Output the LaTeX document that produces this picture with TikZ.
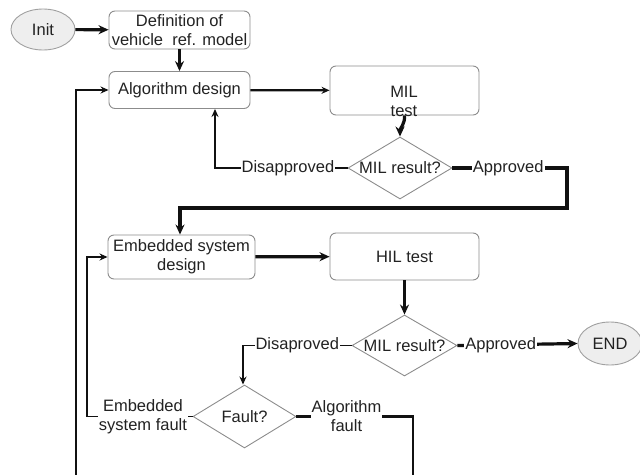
\documentclass[tikz,border=0pt]{standalone}
\usepackage{fontspec}
\setmainfont{Liberation Sans}
\usetikzlibrary{shapes.geometric,arrows.meta}
\definecolor{boxgray}{HTML}{8C8C8C}
\definecolor{ellborder}{HTML}{A0A0A0}
\definecolor{txt}{HTML}{222222}
\definecolor{ellfill}{HTML}{EEEEEE}
\definecolor{linecol}{HTML}{111111}
\begin{document}
\begin{tikzpicture}[x=1pt,y=-1pt,
  font=\fontsize{16.5}{19}\selectfont,
  box/.style={draw=boxgray, rounded corners=6pt, line width=0.9pt, align=center, inner sep=0pt, text=txt},
  ell/.style={ellipse, draw=ellborder, fill=ellfill, line width=0.9pt, text=txt, inner sep=0pt},
  dia/.style={diamond, draw=boxgray, line width=0.9pt, inner sep=0pt, text=txt},
  lbl/.style={fill=white, inner sep=1pt, text=txt, align=center},
  wthin/.style={draw=linecol, line width=1.5pt},
  wmid/.style={draw=linecol, line width=2.2pt},
  wthick/.style={draw=linecol, line width=3.2pt},
  tipbig/.style={-{Stealth[length=10pt,width=9pt]}},
  tipsmall/.style={-{Stealth[length=8pt,width=7pt]}}
]
\useasboundingbox (0,0) rectangle (640,474);
\clip (0,0) rectangle (640,474);

% nodes
\node[ell, minimum width=64pt, minimum height=41pt] (init) at (43,29.5) {Init};
\node[box, minimum width=141pt, minimum height=38pt] (def) at (179.5,30) {Definition of\\vehicle\ \ ref. model};
\node[box, minimum width=141pt, minimum height=37pt] (alg) at (179.5,90) {Algorithm design};
\node[box, minimum width=149pt, minimum height=49pt] (mil) at (404.5,90.5) {};
\node[text=txt, align=center, inner sep=0pt] (miltxt) at (404,101) {MIL\\test};
\node[dia, minimum width=104pt, minimum height=62pt] (d1) at (400,168) {\makebox[0pt]{MIL result?}};
\node[box, minimum width=147pt, minimum height=44pt] (emb) at (181.5,257) {Embedded system\\design};
\node[box, minimum width=149pt, minimum height=47pt] (hil) at (404.5,256.5) {HIL test};
\node[dia, minimum width=105pt, minimum height=61pt] (d2) at (404.5,345.5) {\makebox[0pt]{MIL result?}};
\node[ell, minimum width=64pt, minimum height=43pt] (end) at (610,343.5) {END};
\node[dia, minimum width=103pt, minimum height=63pt] (fault) at (244.5,416.5) {\makebox[0pt]{Fault?}};

% coordinates
\coordinate (c1) at (215,168);
\coordinate (c2) at (567,168);
\coordinate (c3) at (567,208);
\coordinate (c4) at (180,208);
\coordinate (c5) at (243,345.5);
\coordinate (c6) at (87,416.5);
\coordinate (c7) at (87,257);
\coordinate (c8) at (413,416.5);
\coordinate (c9) at (413,500);
\coordinate (c10) at (76,500);
\coordinate (c11) at (76,90);

% connectors
\draw[wthick, tipbig] (init) -- (def);
\draw[wthick, tipbig] (def) -- (alg);
\draw[wmid, tipsmall] (alg) -- (mil);
\draw[wthick, tipbig] (mil.south) to[out=-85,in=90] (d1.north);
\draw[wthin, tipsmall] (d1.west) -- node[lbl, pos=0.45]{Disapproved} (c1) -- (c1 |- alg.south);
\draw[wthick, tipbig] (d1.east) -- node[lbl, pos=0.487]{Approved} (c2) -- (c3) -- (c4) -- (c4 |- emb.north);
\draw[wthick, tipbig] (emb) -- (hil);
\draw[wthick, tipbig] (hil) -- (d2);
\draw[wthick, tipbig] (d2.east) -- node[lbl, pos=0.36]{Approved} (end.west);
\draw[wthin, tipsmall] (d2.west) -- node[lbl, pos=0.5]{Disaproved} (c5) -- (c5 |- fault.north);
\draw[wthin, tipsmall] (fault.west) -- node[lbl, pos=0.47]{Embedded\\system fault} (c6) -- (c7) -- (emb.west);
\draw[wmid, tipsmall] (fault.east) -- node[lbl, pos=0.43]{Algorithm\\fault} (c8) -- (c9) -- (c10) -- (c11) -- (alg.west);
\end{tikzpicture}
\end{document}
